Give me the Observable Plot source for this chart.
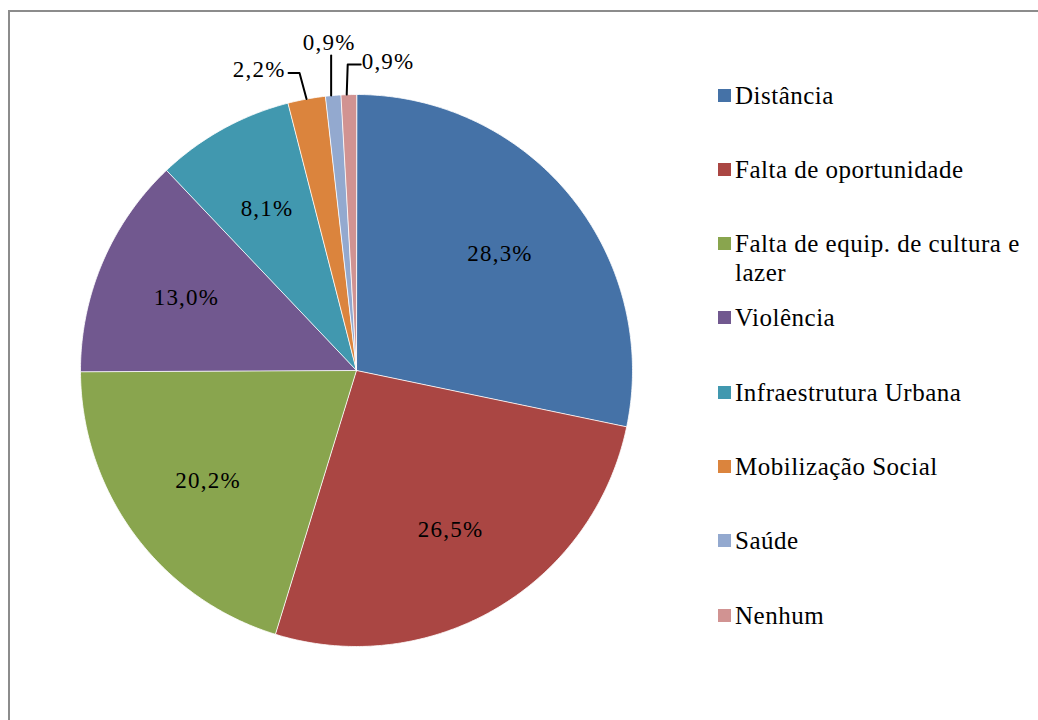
<!DOCTYPE html>
<html>
<head>
<meta charset="utf-8">
<script src="https://cdn.jsdelivr.net/npm/d3@7"></script>
<script src="https://cdn.jsdelivr.net/npm/@observablehq/plot@0.6"></script>
<style>
  html, body { margin: 0; padding: 0; background: #fff; }
  #wrap { position: relative; width: 1038px; height: 720px; overflow: hidden; background: #fff; }
  #chart { position: absolute; left: 0; top: 0; }
  #chart text { letter-spacing: 1.2px; font-family: "Liberation Serif", "Tinos", "Times New Roman", "DejaVu Serif", serif; }
  #frame { position: absolute; left: 8px; top: 10px; width: 1200px; height: 900px;
           border-left: 2px solid #8c8c8c; border-top: 2px solid #8c8c8c; pointer-events: none; }
  #legend { position: absolute; left: 718px; top: 0; font-family: "Liberation Serif", "Tinos", "Times New Roman", "DejaVu Serif", serif;
            font-size: 25px; letter-spacing: 0.5px; color: #000; }
  .item { position: absolute; left: 0; display: flex; align-items: flex-start; width: 320px; line-height: 29px; }
  .sw { width: 13px; height: 13px; margin-top: 8px; margin-right: 4px; flex: none; }
</style>
</head>
<body>
<div id="wrap">
  <div id="chart"></div>
  <div id="legend"></div>
  <div id="frame"></div>
</div>
<script>
const categories = ["Distância", "Falta de oportunidade", "Falta de equip. de cultura e lazer", "Violência",
                    "Infraestrutura Urbana", "Mobilização Social", "Saúde", "Nenhum"];
const values = [28.3, 26.5, 20.2, 13.0, 8.1, 2.2, 0.9, 0.9];
const colors = ["#4572A7", "#AA4643", "#89A54E", "#71588F", "#4198AF", "#DB843D", "#93A9CF", "#D19392"];

const fmt = v => d3.format(".1f")(v).replace(".", ",") + "%";

// geometry (pixel units relative to pie center, y up)
const R = 276, CX = 356, CY = 370;
const arcs = d3.pie().sort(null).value(d => d)(values);

const slicePts = [];
arcs.forEach((a, i) => {
  const cat = categories[i];
  slicePts.push({cat, x: 0, y: 0});
  const n = Math.max(2, Math.ceil((a.endAngle - a.startAngle) / 0.01));
  for (let k = 0; k <= n; k++) {
    const t = a.startAngle + (a.endAngle - a.startAngle) * k / n;
    slicePts.push({cat, x: R * Math.sin(t), y: R * Math.cos(t)});
  }
});

const inside = [], outside = [];
arcs.forEach((a, i) => {
  const mid = (a.startAngle + a.endAngle) / 2;
  const rec = {label: fmt(values[i]), mid, i};
  if (values[i] >= 5) {
    inside.push({...rec, x: 0.67 * R * Math.sin(mid), y: 0.67 * R * Math.cos(mid)});
  } else {
    outside.push({...rec, ax: R * Math.sin(mid), ay: R * Math.cos(mid)});
  }
});

const leaders = [], txtEnd = [], txtMid = [], txtStart = [];
outside.forEach((o, k) => {
  const id = "L" + k;
  if (k === 0) {
    const p1 = {x: o.ax - 7, y: o.ay + 26}, p2 = {x: o.ax - 18, y: o.ay + 26};
    leaders.push({id, x: o.ax, y: o.ay}, {id, ...p1}, {id, ...p2});
    txtEnd.push({label: o.label, x: p2.x - 3, y: p2.y + 3});
  } else if (k === 1) {
    const p1 = {x: o.ax - 2, y: o.ay + 40};
    leaders.push({id, x: o.ax - 2, y: o.ay}, {id, ...p1});
    txtMid.push({label: o.label, x: p1.x - 2, y: p1.y + 13});
  } else {
    const p1 = {x: o.ax - 1, y: o.ay + 30}, p2 = {x: o.ax + 12, y: o.ay + 30};
    leaders.push({id, x: o.ax - 2, y: o.ay}, {id, ...p1}, {id, ...p2});
    txtStart.push({label: o.label, x: p2.x + 1, y: p2.y + 3});
  }
});

const chart = Plot.plot({
  width: 1038,
  height: 720,
  margin: 0,
  x: {domain: [-R, R], range: [CX - R, CX + R], axis: null},
  y: {domain: [-R, R], range: [CY + R, CY - R], axis: null},
  color: {domain: categories, range: colors},
  style: {background: "transparent"},
  marks: [
    Plot.line(slicePts, {x: "x", y: "y", z: "cat", fill: "cat", stroke: "#ffffff", strokeWidth: 0.8, curve: "linear-closed"}),
    Plot.text(inside, {x: "x", y: "y", text: "label", fontSize: 23, fill: "#000"}),
    Plot.line(leaders, {x: "x", y: "y", z: "id", stroke: "#000", strokeWidth: 2}),
    Plot.text(txtEnd, {x: "x", y: "y", text: "label", textAnchor: "end", fontSize: 23, fill: "#000"}),
    Plot.text(txtMid, {x: "x", y: "y", text: "label", textAnchor: "middle", fontSize: 23, fill: "#000"}),
    Plot.text(txtStart, {x: "x", y: "y", text: "label", textAnchor: "start", fontSize: 23, fill: "#000"})
  ]
});
document.getElementById("chart").appendChild(chart);

const legend = document.getElementById("legend");
categories.forEach((c, i) => {
  const item = document.createElement("div");
  item.className = "item";
  item.style.top = (95 - 14.5 + i * 74.3) + "px";
  const sw = document.createElement("div");
  sw.className = "sw";
  sw.style.background = colors[i];
  const t = document.createElement("div");
  t.textContent = c;
  item.appendChild(sw);
  item.appendChild(t);
  legend.appendChild(item);
});
</script>
</body>
</html>
